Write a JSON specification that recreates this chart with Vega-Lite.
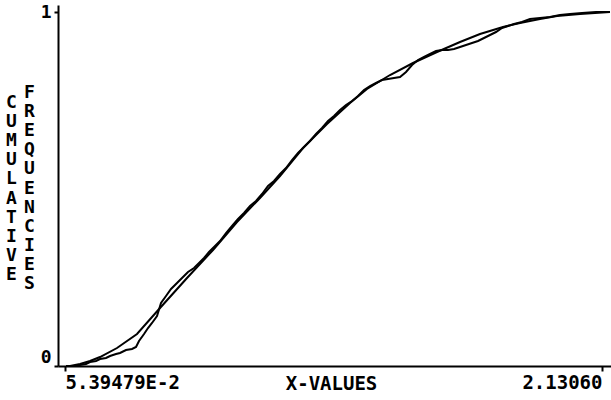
{
  "$schema": "https://vega.github.io/schema/vega-lite/v6.json",
  "width": 553,
  "height": 361,
  "autosize": {"type": "none"},
  "padding": {"left": 58, "top": 5, "right": 0, "bottom": 34},
  "background": "white",
  "config": {"view": {"stroke": null}},
  "data": {
    "values": [
      {"series": "fitted", "x": 0.0733, "y": 0},
      {"series": "fitted", "x": 0.1120, "y": 0.0056},
      {"series": "fitted", "x": 0.1506, "y": 0.0141},
      {"series": "fitted", "x": 0.1893, "y": 0.0254},
      {"series": "fitted", "x": 0.2550, "y": 0.0508},
      {"series": "fitted", "x": 0.3324, "y": 0.0904},
      {"series": "fitted", "x": 0.4213, "y": 0.1638},
      {"series": "fitted", "x": 0.5257, "y": 0.2486},
      {"series": "fitted", "x": 0.6263, "y": 0.3277},
      {"series": "fitted", "x": 0.7191, "y": 0.4068},
      {"series": "fitted", "x": 0.8080, "y": 0.4746},
      {"series": "fitted", "x": 0.8854, "y": 0.5367},
      {"series": "fitted", "x": 0.9743, "y": 0.6158},
      {"series": "fitted", "x": 1.0671, "y": 0.6836},
      {"series": "fitted", "x": 1.1561, "y": 0.7429},
      {"series": "fitted", "x": 1.2218, "y": 0.7825},
      {"series": "fitted", "x": 1.3108, "y": 0.8220},
      {"series": "fitted", "x": 1.3997, "y": 0.8559},
      {"series": "fitted", "x": 1.4925, "y": 0.8870},
      {"series": "fitted", "x": 1.5815, "y": 0.9153},
      {"series": "fitted", "x": 1.6588, "y": 0.9379},
      {"series": "fitted", "x": 1.7477, "y": 0.9576},
      {"series": "fitted", "x": 1.8135, "y": 0.9689},
      {"series": "fitted", "x": 1.8908, "y": 0.9802},
      {"series": "fitted", "x": 1.9566, "y": 0.9887},
      {"series": "fitted", "x": 2.0455, "y": 0.9944},
      {"series": "fitted", "x": 2.1615, "y": 1.0},
      {"series": "empirical", "x": 0.0578, "y": 0},
      {"series": "empirical", "x": 0.0965, "y": 0},
      {"series": "empirical", "x": 0.1120, "y": 0.0028},
      {"series": "empirical", "x": 0.1352, "y": 0.0056},
      {"series": "empirical", "x": 0.1506, "y": 0.0113},
      {"series": "empirical", "x": 0.1738, "y": 0.0141},
      {"series": "empirical", "x": 0.1893, "y": 0.0198},
      {"series": "empirical", "x": 0.2125, "y": 0.0226},
      {"series": "empirical", "x": 0.2280, "y": 0.0282},
      {"series": "empirical", "x": 0.2512, "y": 0.0339},
      {"series": "empirical", "x": 0.2666, "y": 0.0367},
      {"series": "empirical", "x": 0.2898, "y": 0.0452},
      {"series": "empirical", "x": 0.3130, "y": 0.0480},
      {"series": "empirical", "x": 0.3285, "y": 0.0537},
      {"series": "empirical", "x": 0.3401, "y": 0.0706},
      {"series": "empirical", "x": 0.3595, "y": 0.0904},
      {"series": "empirical", "x": 0.3749, "y": 0.1073},
      {"series": "empirical", "x": 0.3904, "y": 0.1215},
      {"series": "empirical", "x": 0.4097, "y": 0.1412},
      {"series": "empirical", "x": 0.4252, "y": 0.1780},
      {"series": "empirical", "x": 0.4445, "y": 0.1977},
      {"series": "empirical", "x": 0.4639, "y": 0.2175},
      {"series": "empirical", "x": 0.4871, "y": 0.2345},
      {"series": "empirical", "x": 0.5064, "y": 0.2486},
      {"series": "empirical", "x": 0.5296, "y": 0.2655},
      {"series": "empirical", "x": 0.5528, "y": 0.2768},
      {"series": "empirical", "x": 0.5722, "y": 0.2910},
      {"series": "empirical", "x": 0.5915, "y": 0.3051},
      {"series": "empirical", "x": 0.6108, "y": 0.3220},
      {"series": "empirical", "x": 0.6302, "y": 0.3362},
      {"series": "empirical", "x": 0.6534, "y": 0.3531},
      {"series": "empirical", "x": 0.6766, "y": 0.3757},
      {"series": "empirical", "x": 0.6998, "y": 0.3955},
      {"series": "empirical", "x": 0.7230, "y": 0.4153},
      {"series": "empirical", "x": 0.7462, "y": 0.4322},
      {"series": "empirical", "x": 0.7694, "y": 0.4520},
      {"series": "empirical", "x": 0.7926, "y": 0.4661},
      {"series": "empirical", "x": 0.8158, "y": 0.4859},
      {"series": "empirical", "x": 0.8390, "y": 0.5085},
      {"series": "empirical", "x": 0.8622, "y": 0.5226},
      {"series": "empirical", "x": 0.8854, "y": 0.5424},
      {"series": "empirical", "x": 0.9086, "y": 0.5593},
      {"series": "empirical", "x": 0.9318, "y": 0.5819},
      {"series": "empirical", "x": 0.9550, "y": 0.6017},
      {"series": "empirical", "x": 0.9782, "y": 0.6186},
      {"series": "empirical", "x": 1.0014, "y": 0.6356},
      {"series": "empirical", "x": 1.0246, "y": 0.6554},
      {"series": "empirical", "x": 1.0478, "y": 0.6723},
      {"series": "empirical", "x": 1.0710, "y": 0.6921},
      {"series": "empirical", "x": 1.0942, "y": 0.7062},
      {"series": "empirical", "x": 1.1174, "y": 0.7232},
      {"series": "empirical", "x": 1.1406, "y": 0.7373},
      {"series": "empirical", "x": 1.1638, "y": 0.7486},
      {"series": "empirical", "x": 1.1870, "y": 0.7627},
      {"series": "empirical", "x": 1.2102, "y": 0.7797},
      {"series": "empirical", "x": 1.2334, "y": 0.7910},
      {"series": "empirical", "x": 1.2566, "y": 0.7994},
      {"series": "empirical", "x": 1.2798, "y": 0.8079},
      {"series": "empirical", "x": 1.3030, "y": 0.8107},
      {"series": "empirical", "x": 1.3262, "y": 0.8136},
      {"series": "empirical", "x": 1.3495, "y": 0.8164},
      {"series": "empirical", "x": 1.3727, "y": 0.8305},
      {"series": "empirical", "x": 1.3959, "y": 0.8503},
      {"series": "empirical", "x": 1.4191, "y": 0.8644},
      {"series": "empirical", "x": 1.4423, "y": 0.8729},
      {"series": "empirical", "x": 1.4655, "y": 0.8814},
      {"series": "empirical", "x": 1.4887, "y": 0.8898},
      {"series": "empirical", "x": 1.5119, "y": 0.8927},
      {"series": "empirical", "x": 1.5351, "y": 0.8927},
      {"series": "empirical", "x": 1.5583, "y": 0.8955},
      {"series": "empirical", "x": 1.5815, "y": 0.9011},
      {"series": "empirical", "x": 1.6047, "y": 0.9068},
      {"series": "empirical", "x": 1.6279, "y": 0.9124},
      {"series": "empirical", "x": 1.6511, "y": 0.9181},
      {"series": "empirical", "x": 1.6743, "y": 0.9266},
      {"series": "empirical", "x": 1.6975, "y": 0.9350},
      {"series": "empirical", "x": 1.7207, "y": 0.9435},
      {"series": "empirical", "x": 1.7439, "y": 0.9548},
      {"series": "empirical", "x": 1.7671, "y": 0.9605},
      {"series": "empirical", "x": 1.7903, "y": 0.9661},
      {"series": "empirical", "x": 1.8212, "y": 0.9718},
      {"series": "empirical", "x": 1.8521, "y": 0.9802},
      {"series": "empirical", "x": 1.8908, "y": 0.9831},
      {"series": "empirical", "x": 1.9295, "y": 0.9859},
      {"series": "empirical", "x": 1.9682, "y": 0.9915},
      {"series": "empirical", "x": 2.0069, "y": 0.9944},
      {"series": "empirical", "x": 2.0533, "y": 0.9972},
      {"series": "empirical", "x": 2.1074, "y": 1.0},
      {"series": "empirical", "x": 2.1615, "y": 1.0}
    ]
  },
  "layer": [
    {
      "transform": [{"filter": "datum.series === 'fitted'"}],
      "mark": {"type": "line", "color": "black", "strokeWidth": 2, "clip": true},
      "encoding": {
        "x": {
          "field": "x", "type": "quantitative",
          "scale": {"domain": [0.0268, 2.1654], "nice": false, "zero": false},
          "axis": {
            "values": [0.0539479, 2.1306],
            "labelExpr": "datum.value < 1 ? '5.39479E-2' : '2.13060'",
            "labelAlign": {"expr": "datum.value < 1 ? 'left' : 'right'"},
            "labelDx": {"expr": "datum.value < 1 ? -5 : 8"},
            "labelFont": "DejaVu Sans Mono", "labelFontSize": 19, "labelFontWeight": "bold",
            "labelColor": "black", "labelPadding": 2, "labelBaseline": "top",
            "labelOverlap": false, "labelBound": false, "labelFlush": false,
            "domainColor": "black", "domainWidth": 2,
            "tickColor": "black", "tickWidth": 2, "tickSize": 5,
            "grid": false,
            "title": "X-VALUES",
            "titleFont": "DejaVu Sans Mono", "titleFontSize": 19, "titleFontWeight": "bold",
            "titleColor": "black", "titleBaseline": "top", "titleY": 8, "titleX": 273
          }
        },
        "y": {
          "field": "y", "type": "quantitative",
          "scale": {"domain": [0, 1.0198], "nice": false},
          "axis": {
            "orient": "left",
            "values": [0, 1],
            "format": "d",
            "labelFont": "DejaVu Sans Mono", "labelFontSize": 18, "labelFontWeight": "bold",
            "labelColor": "black", "labelPadding": 3, "labelFlush": false,
            "labelBaseline": {"expr": "datum.value == 0 ? 'bottom' : 'middle'"},
            "labelDy": {"expr": "datum.value == 0 ? -3 : 1"},
            "domainColor": "black", "domainWidth": 2,
            "tickColor": "black", "tickWidth": 2, "tickSize": 4,
            "grid": false,
            "title": ["C","U","M","U","L","A","T","I","V","E"],
            "titleFont": "DejaVu Sans Mono", "titleFontSize": 18, "titleFontWeight": "bold",
            "titleColor": "black", "titleAngle": 0, "titleAlign": "center",
            "titleBaseline": "top", "titleLineHeight": 19.2,
            "titleX": -47, "titleY": 88
          }
        }
      }
    },
    {
      "transform": [{"filter": "datum.series === 'empirical'"}],
      "mark": {"type": "line", "color": "black", "strokeWidth": 2, "clip": true},
      "encoding": {
        "x": {"field": "x", "type": "quantitative", "axis": null},
        "y": {
          "field": "y", "type": "quantitative",
          "axis": {
            "orient": "left",
            "labels": false, "ticks": false, "domain": false, "grid": false,
            "title": ["F","R","E","Q","U","E","N","C","I","E","S"],
            "titleFont": "DejaVu Sans Mono", "titleFontSize": 18, "titleFontWeight": "bold",
            "titleColor": "black", "titleAngle": 0, "titleAlign": "center",
            "titleBaseline": "top", "titleLineHeight": 19.2,
            "titleX": -29, "titleY": 78
          }
        }
      }
    }
  ],
  "resolve": {"axis": {"x": "independent", "y": "independent"}}
}
